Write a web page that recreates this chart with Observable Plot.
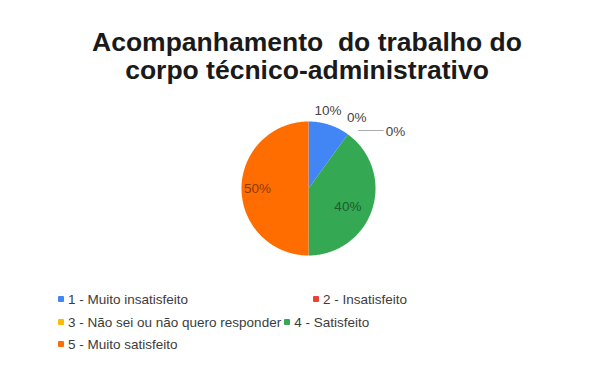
<!DOCTYPE html>
<html><head><meta charset="utf-8">
<script src="https://cdn.jsdelivr.net/npm/d3@7"></script>
<script src="https://cdn.jsdelivr.net/npm/@observablehq/plot@0.6"></script>
<style>
body{margin:0;background:#fff;font-family:"Liberation Sans",Arial,sans-serif;}
#wrap{width:602px;height:365px;position:relative;overflow:hidden;background:#fff}
#title{position:absolute;left:6px;top:28px;width:602px;text-align:center;font-weight:bold;font-size:26.5px;line-height:28px;color:#1a1a1a;white-space:pre}
#chart{position:absolute;left:0;top:95px}
#legend{position:absolute;left:0;top:288px;width:602px;height:77px;font-size:13.5px;color:#3c3c3c}
.row{position:absolute;left:58px;height:22px;display:flex;align-items:center;white-space:nowrap}
.item{display:flex;align-items:center}
.sw{width:6px;height:6px;margin-right:4px;border-radius:1px}
</style></head><body>
<div id="wrap"><div id="title"></div><div id="chart"></div><div id="legend"></div></div>
<script>
const titleLines = ["Acompanhamento  do trabalho do", "corpo técnico-administrativo"];
const categories = ["1 - Muito insatisfeito", "2 - Insatisfeito", "3 - Não sei ou não quero responder", "4 - Satisfeito", "5 - Muito satisfeito"];
const values = [10, 0, 0, 40, 50];
const percentLabels = ["10%", "0%", "0%", "40%", "50%"];
const colors = ["#4285F4", "#EA4335", "#FBBC04", "#34A853", "#FF6D01"];

document.getElementById("title").textContent = titleLines.join("\n");

// layout
const W = 602, H = 185, R = 67, cx = 308, cy = 93;
const xDomain = [-cx / R, (W - cx) / R];
const yDomain = [-(H - cy) / R, cy / R];

const arcs = d3.pie().sort(null).value(d => d)(values);
const pts = [];
arcs.forEach((a, i) => {
  const cat = categories[i];
  pts.push({cat, x: 0, y: 0});
  const n = Math.max(2, Math.ceil((a.endAngle - a.startAngle) / (Math.PI / 180)));
  for (let k = 0; k <= n; k++) {
    const t = a.startAngle + (a.endAngle - a.startAngle) * k / n;
    pts.push({cat, x: Math.sin(t), y: Math.cos(t)});
  }
  pts.push({cat, x: 0, y: 0});
});

const total = d3.sum(values);
const inside = [], outside = [], leaders = [];
let smallIdx = 0;
arcs.forEach((a, i) => {
  const mid = (a.startAngle + a.endAngle) / 2;
  const share = values[i] / total;
  if (share >= 0.2) {
    const k = 0.2 + share * 1.12;
    const ang = mid + (share < 0.5 ? 0.12 : 0);
    inside.push({cat: categories[i], label: percentLabels[i], x: k * Math.sin(ang), y: k * Math.cos(ang),
      color: d3.color(colors[i]).darker(1.7).formatHex()});
  } else {
    if (smallIdx < 2) {
      const k = smallIdx === 0 ? 1.2 : 1.28;
      const ang = smallIdx === 0 ? mid - 0.07 : mid - 0.03;
      outside.push({label: percentLabels[i], x: k * Math.sin(ang), y: k * Math.cos(ang)});
    } else {
      const x1 = 1.14 * Math.sin(mid + 0.08), y1 = 1.14 * Math.cos(mid + 0.08);
      const x2 = x1 + 0.38, y2 = y1;
      leaders.push({label: percentLabels[i], x1, y1, x2, y2});
    }
    smallIdx++;
  }
});

const plot = Plot.plot({
  width: W, height: H,
  margin: 0,
  x: {domain: xDomain, axis: null},
  y: {domain: yDomain, axis: null},
  color: {domain: categories, range: colors},
  style: {fontFamily: "'Liberation Sans', Arial, sans-serif", background: "transparent"},
  marks: [
    Plot.line(pts, {x: "x", y: "y", z: "cat", fill: "cat", stroke: null, curve: "linear"}),
    Plot.text(inside, {x: "x", y: "y", text: "label", fill: d => d.color, fontSize: 13.5}),
    Plot.text(outside, {x: "x", y: "y", text: "label", fill: "#444", fontSize: 13.5}),
    Plot.link(leaders, {x1: "x1", y1: "y1", x2: "x2", y2: "y2", stroke: "#aaa", strokeWidth: 1}),
    Plot.text(leaders, {x: "x2", y: "y2", text: "label", fill: "#444", fontSize: 13.5, textAnchor: "start", dx: 2, dy: 1})
  ]
});
document.getElementById("chart").appendChild(plot);

// legend
const rows = [[0, 1], [2, 3], [4]];
const rowTops = [0, 23, 45];
const lg = document.getElementById("legend");
rows.forEach((r, ri) => {
  const row = document.createElement("div");
  row.className = "row";
  row.style.top = rowTops[ri] + "px";
  r.forEach((ci, j) => {
    const it = document.createElement("div");
    it.className = "item";
    if (ri === 0 && j === 1) { it.style.position = "absolute"; it.style.left = (313 - 58) + "px"; }
    if (ri === 1 && j === 1) it.style.marginLeft = "3px";
    const sw = document.createElement("span");
    sw.className = "sw";
    sw.style.background = colors[ci];
    const tx = document.createElement("span");
    tx.textContent = categories[ci];
    it.appendChild(sw); it.appendChild(tx);
    row.appendChild(it);
  });
  lg.appendChild(row);
});
</script>
</body></html>
